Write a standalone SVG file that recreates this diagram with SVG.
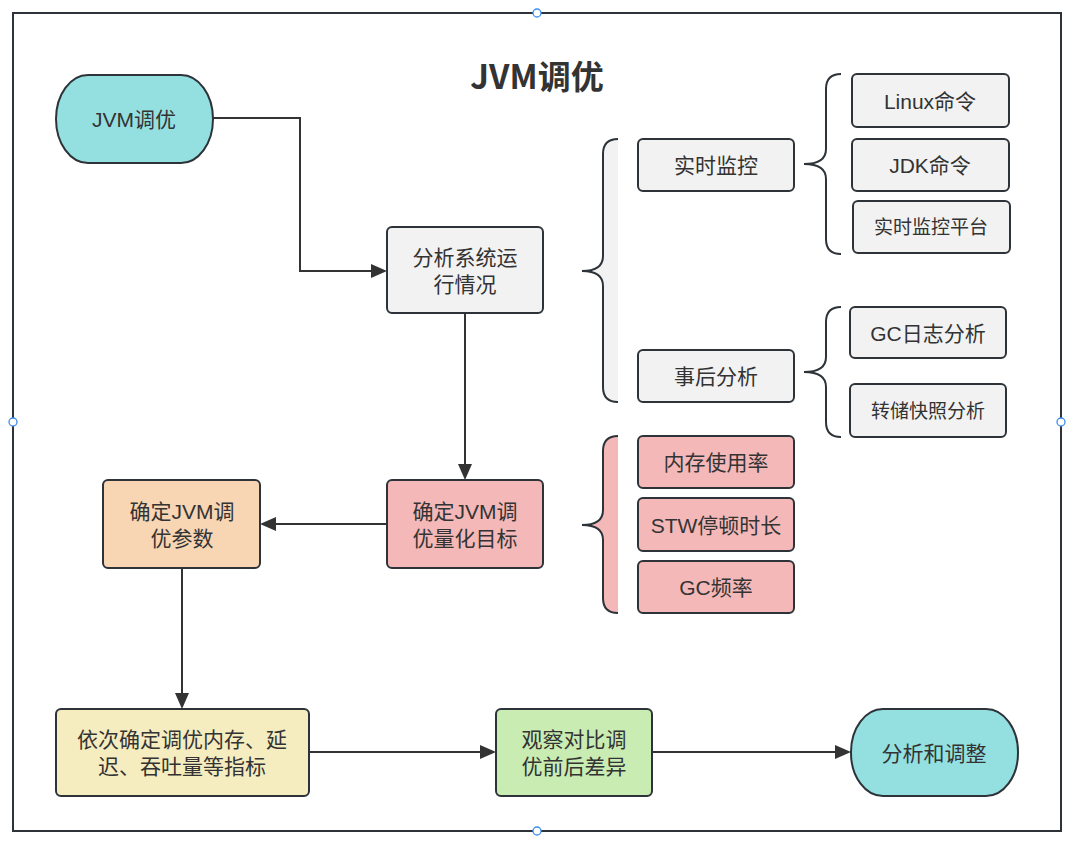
<svg xmlns="http://www.w3.org/2000/svg" width="1077" height="849" viewBox="0 0 1077 849">
<style>
.n{stroke:#2d3338;stroke-width:2}
.g{fill:#f2f2f2}
.p{fill:#f4b8b8}
.c{fill:#94e0e1}
.t{font-family:"Liberation Sans","Noto Sans CJK SC",sans-serif;font-size:21px;fill:#333;text-anchor:middle;dominant-baseline:central}
.s{font-size:19px}
.e{fill:none;stroke:#333;stroke-width:2}
.b{fill:none;stroke:#2d3338;stroke-width:2}
.h{fill:#fff;stroke:#3d8ef0;stroke-width:1.3}
</style>
<defs>
<marker id="a" viewBox="0 0 16 14" refX="7" refY="7" markerWidth="16" markerHeight="14" markerUnits="userSpaceOnUse" orient="auto">
<path d="M0,0 L16,7 L0,14 z" fill="#333"/>
</marker>
</defs>
<rect width="1077" height="849" fill="#fff"/>
<rect x="13" y="13" width="1048" height="818" fill="none" stroke="#2d3338" stroke-width="2"/>
<g id="handles">
<circle class="h" cx="537" cy="13" r="4"/>
<circle class="h" cx="537" cy="831" r="4"/>
<circle class="h" cx="13" cy="422" r="4"/>
<circle class="h" cx="1061" cy="422" r="4"/>
</g>
<text x="537" y="75" class="t" style="font-size:33px;font-weight:bold;font-family:'Noto Sans CJK SC',sans-serif">JVM调优</text>

<g id="braces">
<path d="M618,139 Q603,139 603,154 L603,256 Q603,271 582,271 Q603,271 603,286 L603,387 Q603,402 618,402 Z" fill="#f2f2f2"/>
<path class="b" d="M618,139 Q603,139 603,154 L603,256 Q603,271 582,271 Q603,271 603,286 L603,387 Q603,402 618,402"/>
<path class="b" d="M841,74 Q826,74 826,89 L826,149 Q826,164 804,164 Q826,164 826,179 L826,239 Q826,254 841,254"/>
<path class="b" d="M841,307 Q826,307 826,322 L826,357 Q826,372 804,372 Q826,372 826,387 L826,422 Q826,437 841,437"/>
<path d="M618,436 Q603,436 603,451 L603,510 Q603,525 582,525 Q603,525 603,540 L603,598 Q603,613 618,613 Z" fill="#f4b8b8"/>
<path class="b" d="M618,436 Q603,436 603,451 L603,510 Q603,525 582,525 Q603,525 603,540 L603,598 Q603,613 618,613"/>
</g>

<g id="connectors">
<path class="e" d="M213,118 L300,118 L300,271 L378,271" marker-end="url(#a)"/>
<path class="e" d="M465,313 L465,471" marker-end="url(#a)"/>
<path class="e" d="M387,524 L269,524" marker-end="url(#a)"/>
<path class="e" d="M182,568 L182,700" marker-end="url(#a)"/>
<path class="e" d="M309,752 L487,752" marker-end="url(#a)"/>
<path class="e" d="M652,752 L842,752" marker-end="url(#a)"/>
</g>

<g id="start"><rect class="n c" x="56" y="75" width="157" height="88" rx="32" ry="44"/><text class="t" x="134" y="119">JVM调优</text></g>
<g id="analyze"><rect class="n g" x="387" y="227" width="156" height="86" rx="5"/><text class="t" x="465" y="257">分析系统运<tspan x="465" dy="27">行情况</tspan></text></g>
<g id="target"><rect class="n p" x="387" y="480" width="156" height="88" rx="5"/><text class="t" x="465" y="511">确定JVM调<tspan x="465" dy="27">优量化目标</tspan></text></g>
<g id="params"><rect class="n" fill="#f8d5b3" x="103" y="480" width="157" height="88" rx="5"/><text class="t" x="182" y="511">确定JVM调<tspan x="182" dy="27">优参数</tspan></text></g>
<g id="indicators"><rect class="n" fill="#f5ecbf" x="56" y="709" width="253" height="87" rx="5"/><text class="t" x="182" y="739">依次确定调优内存、延<tspan x="182" dy="27">迟、吞吐量等指标</tspan></text></g>
<g id="compare"><rect class="n" fill="#c9ecb2" x="496" y="709" width="156" height="87" rx="5"/><text class="t" x="574" y="739">观察对比调<tspan x="574" dy="27">优前后差异</tspan></text></g>
<g id="adjust"><rect class="n c" x="851" y="709" width="167" height="87" rx="32" ry="43"/><text class="t" x="934" y="753">分析和调整</text></g>

<g id="realtime"><rect class="n g" x="638" y="139" width="156" height="52" rx="5"/><text class="t" x="716" y="165">实时监控</text></g>
<g id="postmortem"><rect class="n g" x="638" y="350" width="156" height="52" rx="5"/><text class="t" x="716" y="376">事后分析</text></g>
<g id="linux"><rect class="n g" x="852" y="74" width="157" height="53" rx="5"/><text class="t" x="930" y="101">Linux命令</text></g>
<g id="jdk"><rect class="n g" x="852" y="139" width="157" height="52" rx="5"/><text class="t" x="930" y="165">JDK命令</text></g>
<g id="platform"><rect class="n g" x="853" y="201" width="157" height="52" rx="5"/><text class="t s" x="931" y="227">实时监控平台</text></g>
<g id="gclog"><rect class="n g" x="850" y="307" width="156" height="51" rx="5"/><text class="t" x="928" y="333">GC日志分析</text></g>
<g id="dump"><rect class="n g" x="850" y="384" width="156" height="53" rx="5"/><text class="t s" x="928" y="411">转储快照分析</text></g>
<g id="mem"><rect class="n p" x="638" y="436" width="156" height="52" rx="5"/><text class="t" x="716" y="462">内存使用率</text></g>
<g id="stw"><rect class="n p" x="638" y="498" width="156" height="53" rx="5"/><text class="t" x="716" y="525">STW停顿时长</text></g>
<g id="gcfreq"><rect class="n p" x="638" y="561" width="156" height="52" rx="5"/><text class="t" x="716" y="587">GC频率</text></g>
</svg>
